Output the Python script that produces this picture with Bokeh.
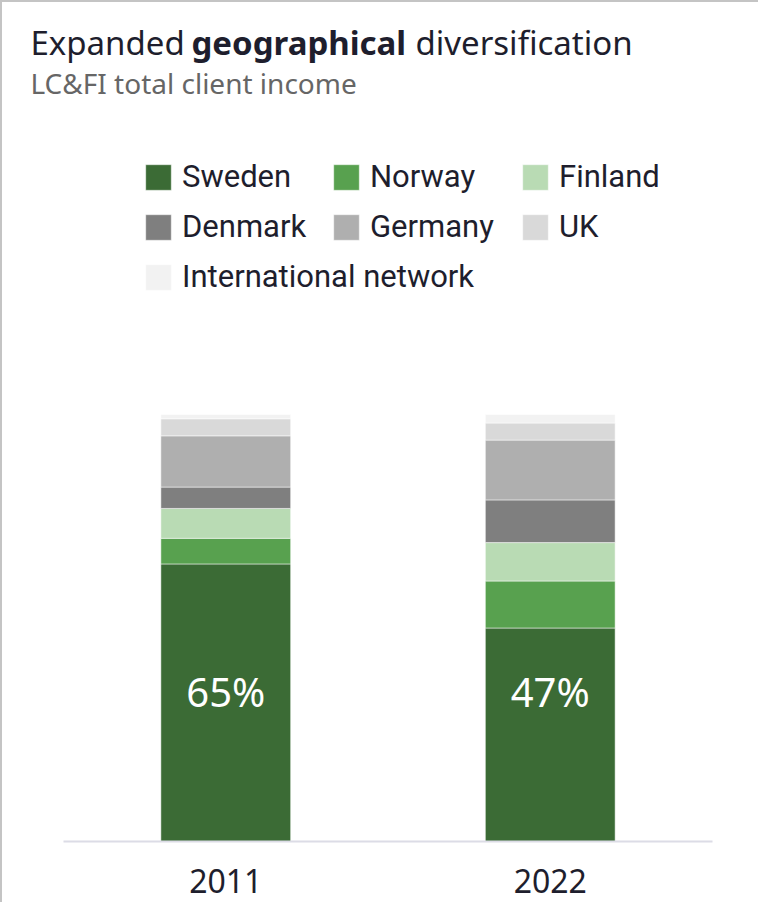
from bokeh.plotting import figure
from bokeh.models import Legend, LegendItem, Label, Range1d, ColumnDataSource
from bokeh.core.properties import value
from bokeh.embed import file_html
from bokeh.resources import INLINE

# ---- data ----
years = ["2011", "2022"]
countries = ["Sweden", "Norway", "Finland", "Denmark", "Germany", "UK", "International network"]
sweden = [65, 50]
norway = [6, 11]
finland = [7, 9]
denmark = [5, 10]
germany = [12, 14]
uk = [4, 4]
international = [1, 2]
bar_labels = ["65%", "47%"]
colors = ["#3b6b35", "#58a14f", "#b9dbb4", "#7f7f7f", "#afafaf", "#d9d9d9", "#f2f2f2"]

FONT = "Roboto"
TFONT = "Noto Sans"
W, H = 758, 902
FL, FB = 13, 63          # frame left border, bottom border
FRAME_B = H - FB         # frame bottom in canvas px (839)
PX_PER_UNIT = 4.27

data = dict(year=years, Sweden=sweden, Norway=norway, Finland=finland, Denmark=denmark,
            Germany=germany, UK=uk)
data["International network"] = international
source = ColumnDataSource(data)

p = figure(x_range=years, y_range=Range1d(0, FRAME_B / PX_PER_UNIT), width=W, height=H,
           output_backend="svg", toolbar_location=None,
           min_border_left=FL, min_border_right=0, min_border_top=0, min_border_bottom=FB)
p.x_range.range_padding = 0.148
p.x_range.range_padding_units = "absolute"

renderers = p.vbar_stack(countries, x="year", width=0.4, color=colors, source=source,
                         line_color="white", line_alpha=0.5, line_width=1)

# bar percentage labels
lab_src = ColumnDataSource(dict(year=years, y=[35.1] * len(years), txt=bar_labels))
p.text(x="year", y="y", text="txt", source=lab_src, text_align="center",
       text_baseline="alphabetic", text_color="white", text_font_size="40px",
       text_font=value(TFONT))

# axes / grid
p.yaxis.visible = False
p.xgrid.visible = False
p.ygrid.visible = False
p.outline_line_color = None
p.xaxis.bounds = (0, 2)
p.xaxis.axis_line_color = "#dcdce6"
p.xaxis.axis_line_width = 2
p.xaxis.major_tick_line_color = None
p.xaxis.minor_tick_line_color = None
p.xaxis.major_label_standoff = 21
p.xaxis.major_label_text_font_size = "32px"
p.xaxis.major_label_text_font = TFONT
p.xaxis.major_label_text_color = "#1e1e2d"

# legends (three columns)
def make_legend(idx, loc):
    items = [LegendItem(label=countries[i], renderers=[renderers[i]]) for i in idx]
    lg = Legend(items=items, location=loc, border_line_color=None, background_fill_alpha=0,
                padding=0, margin=0, spacing=13, glyph_width=32, glyph_height=32,
                label_height=32, label_standoff=8, label_text_font_size="31px",
                label_text_font=FONT, label_text_color="#1e1e2d")
    p.add_layout(lg)

make_legend([0, 3, 6], (127, 546))
make_legend([1, 4], (315, 596))
make_legend([2, 5], (504, 596))

# title / subtitle (x, y given in canvas px)
def title_label(x, y, text, size, color, style="normal"):
    p.add_layout(Label(x=x - FL, y=FRAME_B - y, x_units="screen", y_units="screen",
                       text=text, text_font_size=size, text_color=color, text_font=TFONT,
                       text_font_style=style, text_baseline="alphabetic"))

title_label(28, 40, "Expanded", "33px", "#1e1e2d")
title_label(189, 40, "geographical", "33px", "#1e1e2d", "bold")
title_label(413, 40, "diversification", "33px", "#1e1e2d")
title_label(28, 80, "LC&FI total client income", "28px", "#666666")

p.styles = {"border-left": "2px solid #c4c4c4", "border-top": "2px solid #c4c4c4"}

open("out.html", "w").write(file_html(p, INLINE))
